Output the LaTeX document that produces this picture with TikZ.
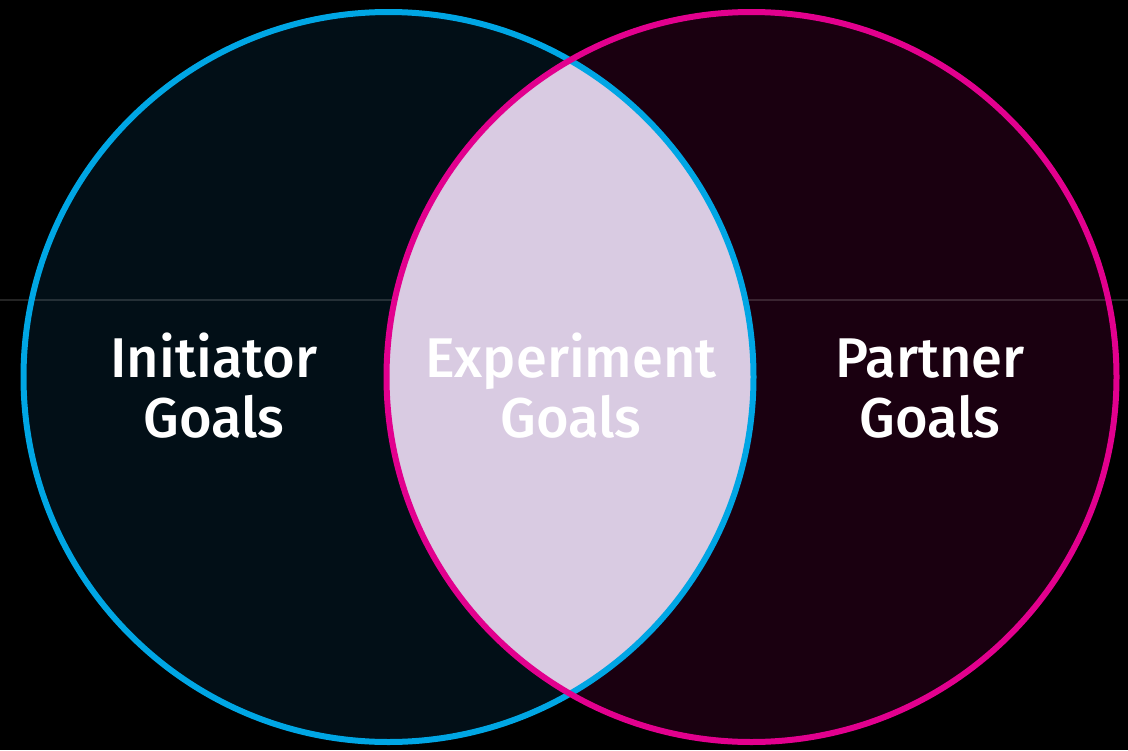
\documentclass[tikz,border=0pt]{standalone}
\usepackage{fontspec}
\setmainfont{Fira Sans}[BoldFont={Fira Sans Medium}]
\definecolor{initblue}{HTML}{00A6E4}
\definecolor{partpink}{HTML}{E2008E}
\definecolor{initfill}{HTML}{020F17}
\definecolor{partfill}{HTML}{1A0010}
\definecolor{lensfill}{HTML}{D9CBE2}
\tikzset{
  ring/.style={circle,inner sep=0pt,minimum size=547.5pt,line width=4.5pt},
  goal/.style={align=center,anchor=base,text=white,
    font=\fontsize{42}{44.5}\selectfont\bfseries}
}
\begin{document}
\begin{tikzpicture}[x=0.75pt,y=-0.75pt]
  \useasboundingbox (0,0) rectangle (1128,750);
  \fill[black] (0,0) rectangle (1128,750);

  % the two sets
  \node [ring,fill=initfill] (initiator) at (388.5,377) {};
  \node [ring,fill=partfill] (partner) at (751.5,377) {};

  % faint rule behind the sets
  \coordinate (ruleL) at (0,300);
  \coordinate (ruleR) at (1128,300);
  \draw [white,opacity=0.14,line width=1.5pt] (ruleL) -- (ruleR);

  % overlap
  \begin{scope}
    \clip (initiator.center) circle [radius=273.75pt];
    \fill [lensfill] (partner.center) circle [radius=273.75pt];
  \end{scope}

  \draw [initblue,line width=4.5pt] (initiator.center) circle [radius=273.75pt];
  \draw [partpink,line width=4.5pt] (partner.center) circle [radius=273.75pt];

  \node [goal] (initgoals) at (214,437) {Initiator\\Goals};
  \node [goal] (expgoals) at (571,437) {Experiment\\Goals};
  \node [goal] (partgoals) at (930,437) {Partner\\Goals};
\end{tikzpicture}
\end{document}
